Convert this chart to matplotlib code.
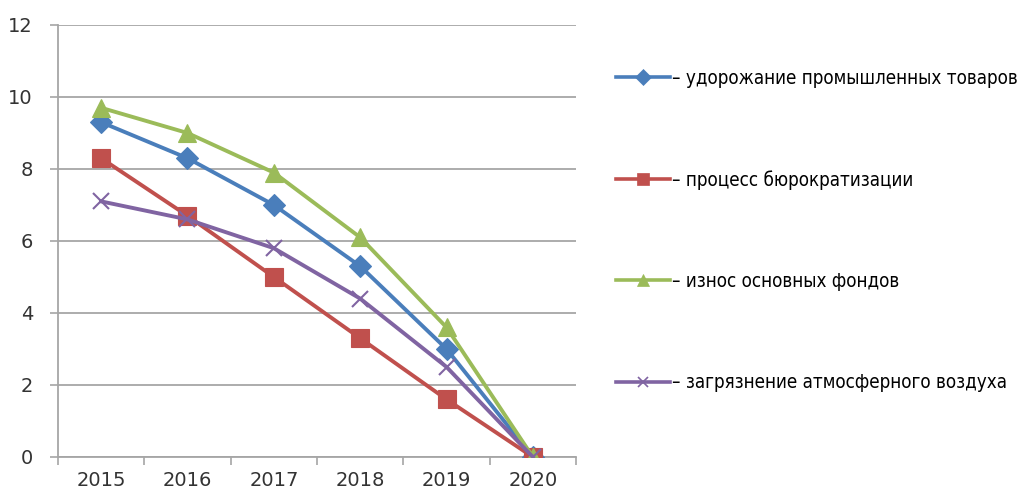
import matplotlib.pyplot as plt
from matplotlib.lines import Line2D
import numpy as np

years = ["2015", "2016", "2017", "2018", "2019", "2020"]
rise_prices = [9.3, 8.3, 7.0, 5.3, 3.0, 0]
bureaucracy = [8.3, 6.7, 5.0, 3.3, 1.6, 0]
wear_funds = [9.7, 9.0, 7.9, 6.1, 3.6, 0]
air_pollution = [7.1, 6.6, 5.8, 4.4, 2.5, 0]
labels = [
    "– удорожание промышленных товаров",
    "– процесс бюрократизации",
    "– износ основных фондов",
    "– загрязнение атмосферного воздуха",
]

series = [rise_prices, bureaucracy, wear_funds, air_pollution]
colors = ["#4a7ebb", "#c0504d", "#9bbb59", "#8064a2"]
markers = ["D", "s", "^", "x"]
msizes = [11, 13, 13, 11]
grid_c = "#a6a6a6"

fig = plt.figure(figsize=(10.19, 4.97), dpi=100)
ax = fig.add_axes([0.0569, 0.0805, 0.5084, 0.8692])

x = np.arange(len(years))
for vals, c, m, ms in zip(series, colors, markers, msizes):
    ax.plot(x, vals, color=c, lw=2.8, marker=m, markersize=ms,
            markeredgewidth=1.5 if m == "x" else 0.8, zorder=3)

ax.set_xlim(-0.5, 5.5)
ax.set_ylim(0, 12)
ax.set_yticks(range(0, 13, 2))
ax.set_xticks(x)
ax.set_xticklabels(years)
ax.set_xticks(np.arange(-0.5, 6, 1), minor=True)
ax.tick_params(axis="x", which="major", length=0, pad=10, labelsize=14, labelcolor="#333333")
ax.tick_params(axis="x", which="minor", length=6, width=1.2, color=grid_c)
ax.tick_params(axis="y", length=6, width=1.2, color=grid_c, labelsize=14, labelcolor="#333333", pad=12)
ax.grid(axis="y", color=grid_c, lw=1.3)
ax.set_axisbelow(True)
for s in ["top", "right"]:
    ax.spines[s].set_visible(False)
for s in ["left", "bottom"]:
    ax.spines[s].set_color(grid_c)
    ax.spines[s].set_linewidth(1.3)

handles = [
    Line2D([], [], color=c, lw=2.6, marker=m, markersize=ms * 0.7,
           markeredgewidth=1.2 if m == "x" else 0.5)
    for c, m, ms in zip(colors, markers, msizes)
]
leg = fig.legend(handles, labels, loc="upper left", bbox_to_anchor=(0.588, 0.895),
                 frameon=False, handlelength=2.9, handletextpad=0.1,
                 labelspacing=4.38,
                 prop={"family": "DejaVu Sans", "stretch": "condensed", "size": 13.5})

fig.savefig("out.png", dpi=100, facecolor="white")
